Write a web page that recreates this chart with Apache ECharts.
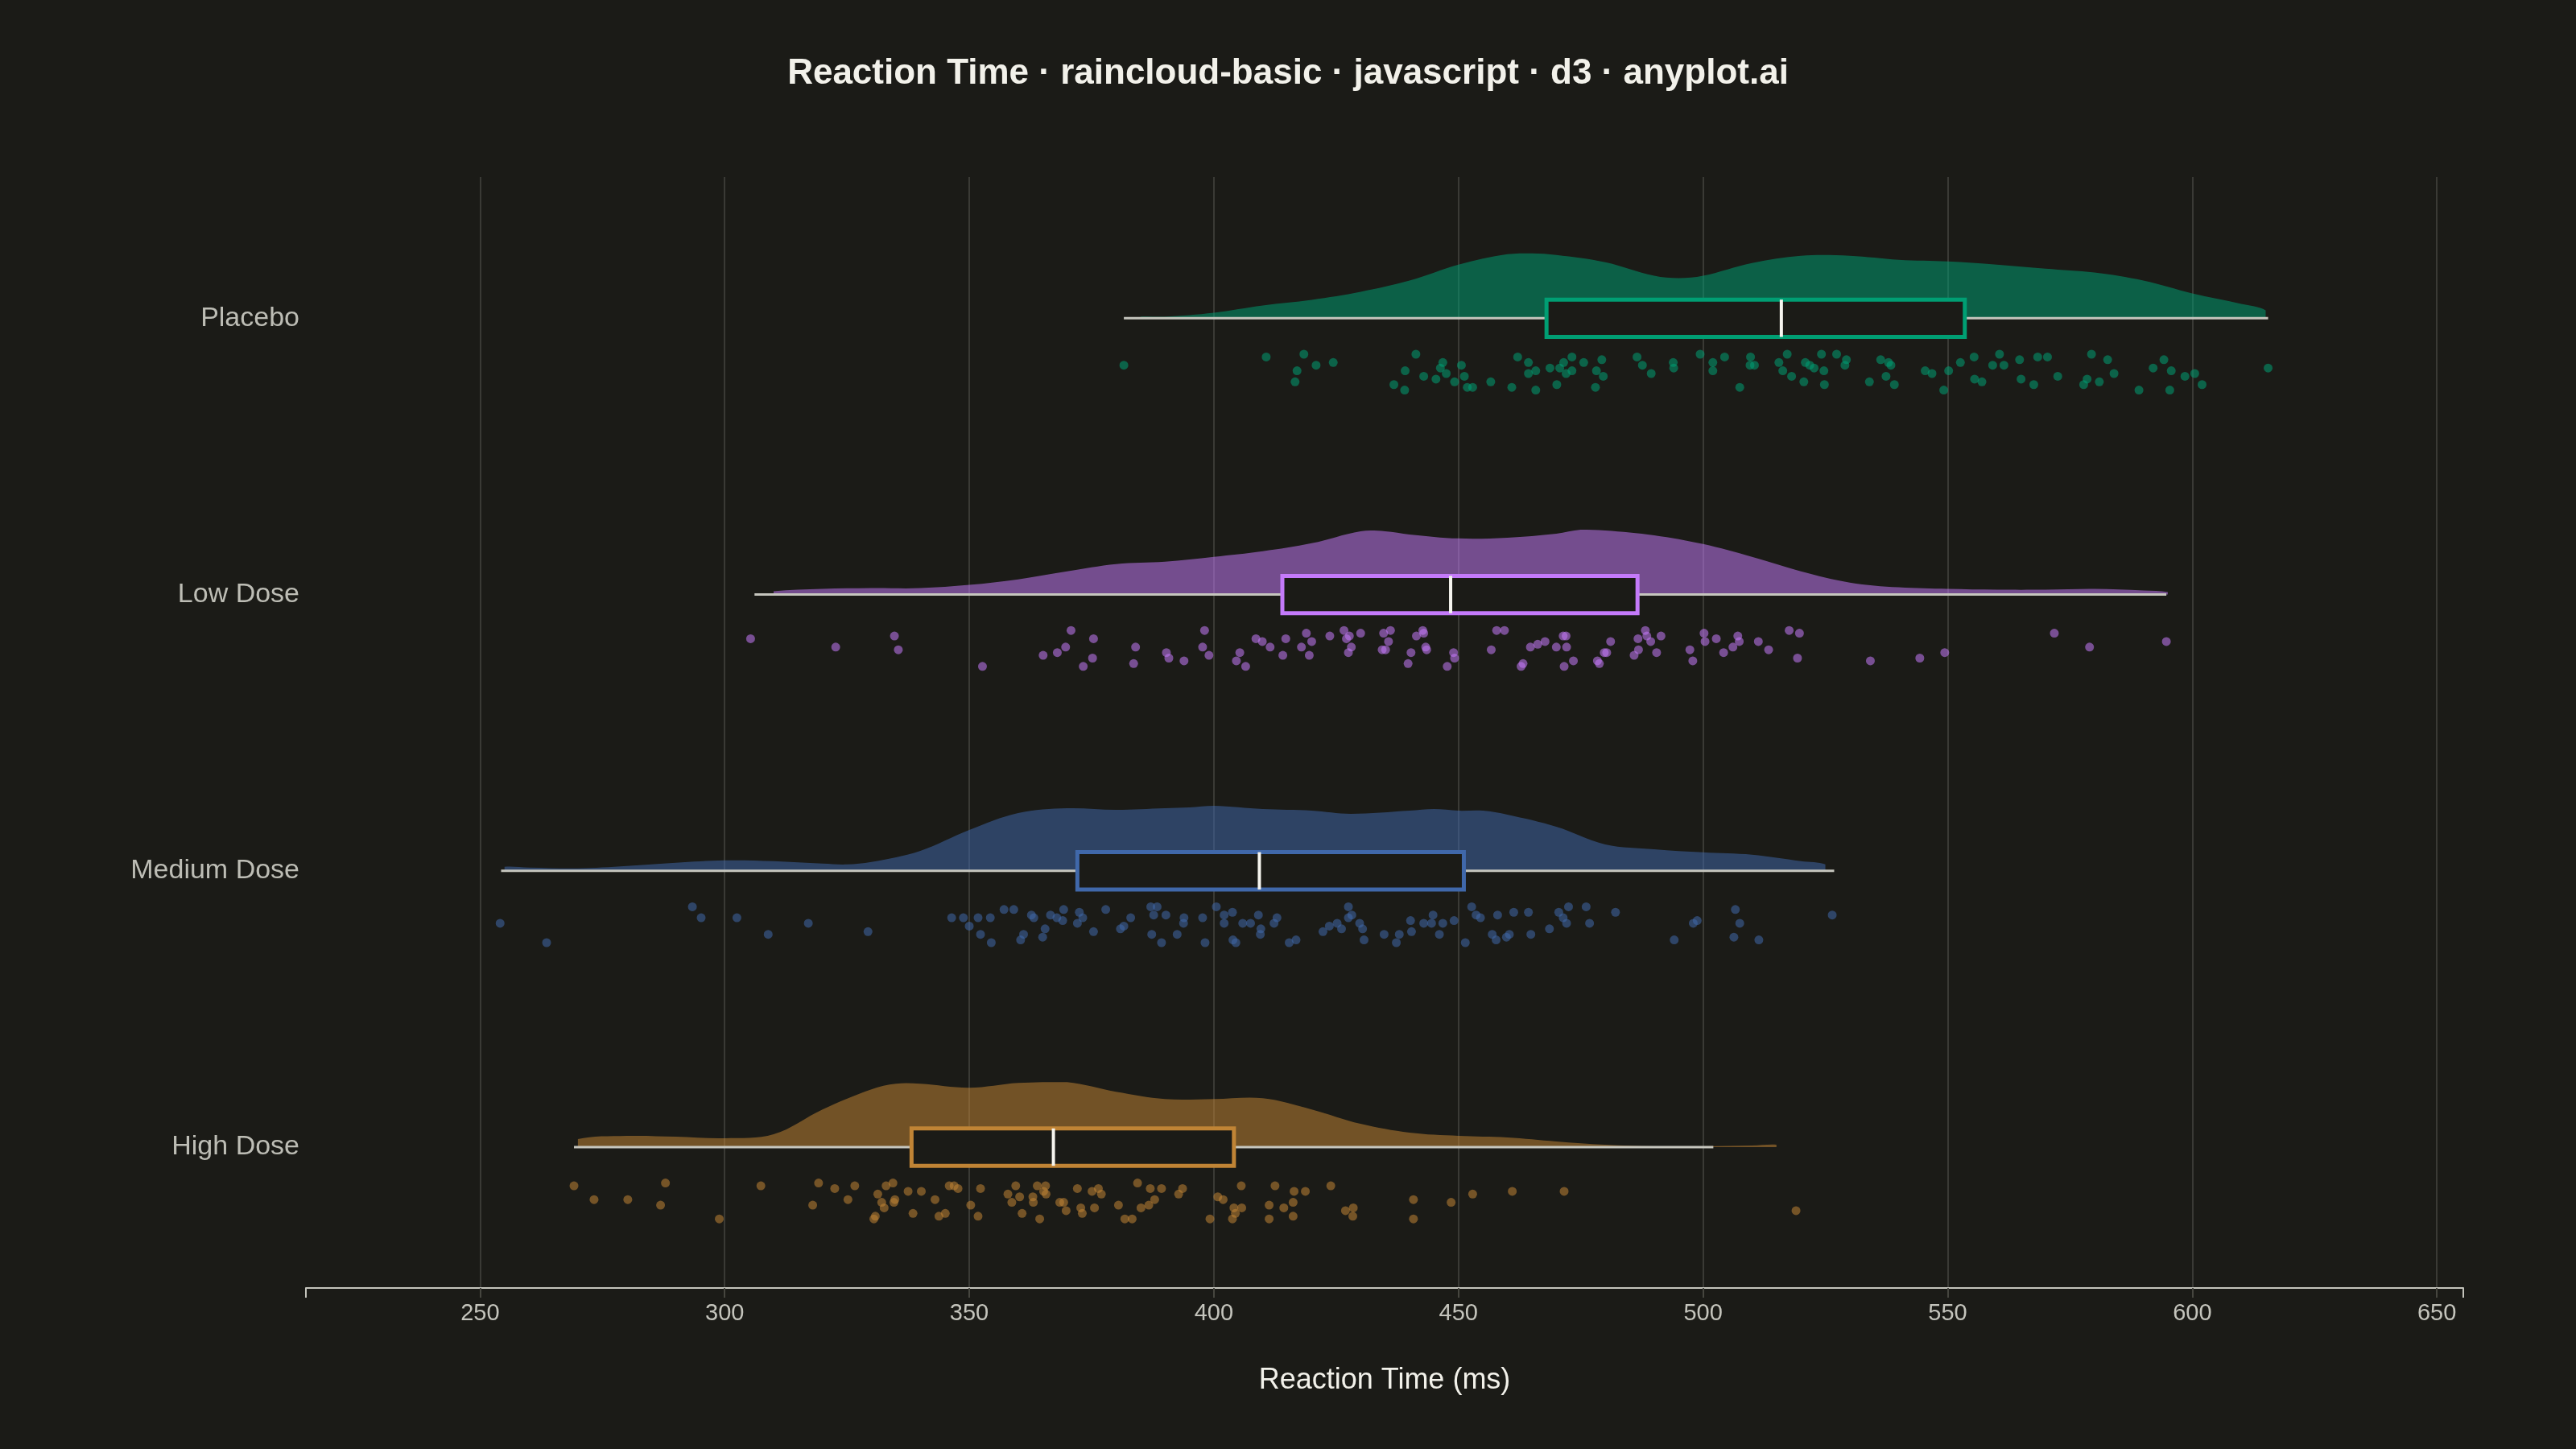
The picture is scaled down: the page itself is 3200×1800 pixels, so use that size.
<!DOCTYPE html>
<html>
<head>
<meta charset="utf-8">
<script src="https://cdn.jsdelivr.net/npm/echarts@6/dist/echarts.min.js"></script>
<style>
  html, body { margin: 0; padding: 0; background: #1b1b17; }
  #main { width: 3200px; height: 1800px; }
</style>
</head>
<body>
<div id="main"></div>
<script>
// groups, top to bottom
var groups = ['Placebo', 'Low Dose', 'Medium Dose', 'High Dose'];
var colors = ['#009E73', '#C47AFA', '#4068AA', '#C08435'];

// axes
var xMin = 214.4;
var xMax = 655.4;
var xTicks = [250, 300, 350, 400, 450, 500, 550, 600, 650];
var yMin = -0.011;
var yMax = 4.01;

// box stats (ms)
var whiskLo = [381.6, 306.1, 254.3, 269.2];
var q1 = [468, 414, 372.1, 338.2];
var median = [516, 448.4, 409.3, 367.2];
var q3 = [553.5, 486.6, 451.1, 404.1];
var whiskHi = [615.5, 594.7, 526.8, 502.1];

// half violin (cloud) outlines: x in ms, relative density
var placeboCloudX = [385, 390, 400, 410, 420, 430, 440, 450, 460, 465, 470, 480, 490, 495, 500, 510, 520, 530, 540, 550, 560, 570, 580, 590, 600, 610, 615];
var placeboCloudD = [2, 2, 7, 16, 23, 33, 47, 67, 80, 81, 79, 70, 53, 50, 53, 69, 78, 78, 73, 71, 67, 62, 57, 47, 31, 18, 10];
var lowCloudX = [310, 320, 330, 340, 350, 360, 370, 380, 390, 400, 410, 420, 430, 435, 440, 450, 460, 470, 475, 480, 490, 500, 510, 520, 530, 540, 550, 560, 570, 580, 590, 595];
var lowCloudD = [4, 7, 8, 8, 12, 19, 29, 38, 41, 47, 54, 64, 79, 79, 75, 70, 71, 76, 81, 80, 74, 63, 47, 29, 15, 9, 7, 6, 6, 7, 5, 3];
var medCloudX = [255, 260, 270, 280, 290, 300, 310, 320, 325, 330, 340, 350, 360, 370, 380, 390, 395, 400, 410, 420, 428, 440, 445, 450, 455, 460, 470, 480, 490, 500, 510, 520, 525];
var medCloudD = [5, 4, 3, 6, 10, 13, 12, 9, 8, 11, 25, 51, 72, 78, 76, 78, 79, 81, 77, 75, 71, 75, 77, 75, 75, 70, 55, 33, 27, 23, 20, 12, 8];
var highCloudX = [270, 280, 290, 300, 310, 320, 330, 335, 340, 350, 360, 370, 380, 390, 400, 410, 420, 430, 440, 450, 460, 470, 480, 490, 500, 510, 515];
var highCloudD = [10, 14, 13, 11, 16, 47, 72, 79, 79, 74, 80, 81, 69, 60, 60, 61, 47, 29, 18, 14, 12, 7, 3, 1, 1, 2, 3];

// raw observations: [reaction time ms, jitter offset below the baseline in band units]
var placeboPts = [[381.6,0.17],[410.7,0.14],[418.4,0.13],[417,0.19],[416.6,0.23],[420.9,0.17],[424.4,0.16],[441.3,0.13],[439.1,0.19],[436.8,0.24],[439,0.26],[446.8,0.16],[446.3,0.18],[442.9,0.21],[445.4,0.22],[447.5,0.2],[450.6,0.17],[451.2,0.21],[449.2,0.23],[452.9,0.25],[451.8,0.25],[456.6,0.23],[460.9,0.25],[462.1,0.14],[464.3,0.16],[465.8,0.19],[464.3,0.2],[465.8,0.26],[468.7,0.18],[470.7,0.18],[471.5,0.16],[473.2,0.14],[472,0.2],[473.2,0.19],[475.6,0.16],[479.3,0.15],[478.2,0.19],[479.6,0.21],[470.1,0.24],[478,0.25],[486.5,0.14],[487.6,0.17],[489.4,0.2],[493.9,0.16],[494,0.18],[499.4,0.13],[502,0.16],[502,0.19],[504.4,0.14],[507.5,0.25],[509.7,0.14],[510.5,0.17],[509.6,0.17],[515.5,0.16],[516.3,0.19],[517.2,0.13],[518.1,0.21],[520.6,0.23],[520.9,0.16],[521.8,0.17],[522.7,0.18],[524.2,0.13],[524.7,0.19],[527.3,0.13],[529.3,0.15],[529,0.17],[524.8,0.24],[534,0.23],[536.3,0.15],[537.9,0.16],[538.4,0.17],[537.4,0.21],[539.1,0.24],[545.4,0.19],[546.8,0.2],[550.2,0.19],[549.2,0.26],[552.6,0.16],[555.4,0.14],[559.2,0.17],[560.6,0.13],[561.5,0.17],[555.5,0.22],[557,0.23],[564.7,0.15],[565,0.22],[567.6,0.24],[568.4,0.14],[570.4,0.14],[572.5,0.21],[579.4,0.13],[578.5,0.22],[577.8,0.24],[581,0.23],[582.7,0.15],[584,0.2],[589.1,0.26],[592,0.18],[594.2,0.15],[595.7,0.19],[595.4,0.26],[598.5,0.21],[600.5,0.2],[602,0.24],[615.5,0.18]];
var lowPts = [[305.3,0.16],[322.7,0.19],[334.7,0.15],[335.5,0.2],[352.7,0.26],[370.8,0.13],[365.1,0.22],[368,0.21],[369.7,0.19],[375.4,0.16],[375.2,0.23],[373.3,0.26],[384,0.19],[383.6,0.25],[390.3,0.21],[390.8,0.23],[393.9,0.24],[398.1,0.13],[397.7,0.19],[399,0.22],[405.3,0.21],[404.6,0.24],[406.5,0.26],[408.6,0.16],[409.9,0.17],[411.5,0.19],[414.7,0.16],[414.1,0.22],[417.9,0.19],[418.9,0.14],[420,0.17],[419.5,0.22],[423.7,0.15],[426.6,0.13],[427.1,0.16],[427.7,0.15],[430,0.14],[428.1,0.19],[427.5,0.21],[434.7,0.14],[436.1,0.13],[435.7,0.17],[435.1,0.2],[434.4,0.2],[441.4,0.15],[442.7,0.13],[442.9,0.14],[443.3,0.19],[443.5,0.2],[440.3,0.21],[439.7,0.25],[449,0.21],[449.2,0.23],[447.7,0.26],[456.7,0.2],[457.8,0.13],[459.4,0.13],[464.7,0.19],[466.2,0.18],[467.7,0.17],[470,0.19],[471.4,0.15],[472,0.15],[472.1,0.19],[463.2,0.25],[462.8,0.26],[473.5,0.24],[471.6,0.26],[478.4,0.24],[478.8,0.25],[479.8,0.21],[480.3,0.21],[481.1,0.17],[485.9,0.22],[486.7,0.16],[486.8,0.2],[488.2,0.13],[488.5,0.15],[489.3,0.17],[491.4,0.15],[490.5,0.21],[497.3,0.2],[497.9,0.24],[500.2,0.14],[500.4,0.17],[502.7,0.16],[504.2,0.21],[506.1,0.19],[507.1,0.15],[507.4,0.17],[511.3,0.17],[513.4,0.2],[517.6,0.13],[519.7,0.14],[519.3,0.23],[534.2,0.24],[544.3,0.23],[549.4,0.21],[571.8,0.14],[579,0.19],[594.7,0.17]];
var medPts = [[254.1,0.19],[263.6,0.26],[293.4,0.13],[295.2,0.17],[302.5,0.17],[308.9,0.23],[317.1,0.19],[329.3,0.22],[346.4,0.17],[348.8,0.17],[351.8,0.17],[354.3,0.17],[350,0.2],[352.3,0.23],[354.5,0.26],[357.1,0.14],[359.1,0.14],[362.7,0.16],[363.2,0.17],[361.1,0.23],[360.5,0.25],[365.5,0.21],[365,0.24],[366.6,0.16],[367.9,0.17],[369.1,0.18],[369.3,0.14],[372.5,0.15],[373.2,0.17],[372.1,0.19],[375.4,0.22],[377.9,0.14],[383,0.17],[381.6,0.2],[380.9,0.21],[387.1,0.13],[388.4,0.13],[387.7,0.16],[390.2,0.16],[387.3,0.23],[389.3,0.26],[393.9,0.17],[393.8,0.19],[392.5,0.23],[397.7,0.17],[400.5,0.13],[402.1,0.16],[403.8,0.15],[402.1,0.19],[405.9,0.19],[407.5,0.19],[409.1,0.16],[409.6,0.21],[409.5,0.23],[403.9,0.25],[404.5,0.26],[398.2,0.26],[412.3,0.19],[412.9,0.17],[415.4,0.26],[416.8,0.25],[422.3,0.22],[423.6,0.2],[425.2,0.19],[426.1,0.21],[427.5,0.13],[428.2,0.16],[427.5,0.17],[429.8,0.19],[430.4,0.21],[430.7,0.25],[434.8,0.23],[437.3,0.26],[437.9,0.23],[440.4,0.22],[440.2,0.18],[442.9,0.19],[444.5,0.19],[444.8,0.16],[446.8,0.19],[449.1,0.18],[446.1,0.23],[451.4,0.26],[452.7,0.13],[453.6,0.16],[454.5,0.17],[458,0.16],[456.9,0.23],[457.7,0.25],[459.8,0.24],[460.4,0.23],[461.3,0.15],[464.3,0.15],[464.8,0.23],[468.6,0.21],[470.5,0.15],[471.4,0.17],[472.1,0.19],[472.5,0.13],[476.1,0.13],[476.8,0.19],[482.1,0.15],[494.1,0.25],[498,0.19],[498.8,0.18],[506.6,0.14],[507.5,0.19],[506.3,0.24],[511.4,0.25],[526.4,0.16]];
var highPts = [[269.2,0.14],[273.3,0.19],[280.2,0.19],[286.9,0.21],[287.9,0.13],[298.9,0.26],[307.4,0.14],[318,0.21],[319.2,0.13],[322.5,0.15],[325.2,0.19],[326.6,0.14],[331.3,0.17],[332.1,0.2],[332.6,0.22],[333,0.14],[334.4,0.13],[334.8,0.19],[334.6,0.2],[330.8,0.25],[330.5,0.26],[337.5,0.16],[340.2,0.16],[338.5,0.24],[343,0.19],[343.8,0.25],[345.1,0.24],[345.9,0.14],[346.9,0.14],[347.7,0.15],[350.3,0.21],[351.8,0.25],[352.3,0.15],[357.9,0.17],[358.7,0.2],[359.5,0.14],[360.3,0.18],[360.8,0.24],[363,0.18],[363.1,0.2],[363.9,0.14],[365.6,0.14],[365.2,0.16],[365.7,0.17],[364.4,0.26],[368.5,0.2],[369.3,0.2],[369.8,0.23],[372.1,0.15],[372.8,0.22],[373.1,0.24],[375.1,0.16],[376.4,0.15],[377,0.17],[375.6,0.22],[380.5,0.21],[381.8,0.26],[383.3,0.26],[384.4,0.13],[385.1,0.22],[386.7,0.21],[387,0.15],[387.9,0.19],[389.3,0.15],[392.8,0.17],[393.6,0.15],[399.2,0.26],[400.8,0.18],[401.9,0.19],[404.1,0.22],[404.4,0.24],[403.8,0.26],[405.7,0.22],[405.6,0.14],[411.3,0.21],[411.3,0.26],[412.5,0.14],[414.3,0.22],[416.4,0.16],[416.2,0.2],[416.2,0.25],[418.7,0.16],[423.9,0.14],[426.9,0.23],[428.5,0.22],[428.4,0.25],[440.8,0.19],[440.8,0.26],[448.5,0.2],[452.9,0.17],[461,0.16],[471.6,0.16],[519,0.23]];

var cloudX = [placeboCloudX, lowCloudX, medCloudX, highCloudX];
var cloudD = [placeboCloudD, lowCloudD, medCloudD, highCloudD];
var allPts = [placeboPts, lowPts, medPts, highPts];

var bg = '#1b1b17';
var cloudHeight = 0.235;   // band units for the tallest density
var boxHalf = 0.0675;

var maxD = 0;
cloudD.forEach(function (a) { a.forEach(function (d) { if (d > maxD) maxD = d; }); });

var chart = echarts.init(document.getElementById('main'));

var series = [];

// clouds
series.push({
    type: 'custom',
    z: 1,
    silent: true,
    data: groups.map(function (g, i) { return [cloudX[i][0], cloudX[i][cloudX[i].length - 1], i]; }),
    encode: { x: [0, 1], y: 2 },
    renderItem: function (params, api) {
        var i = api.value(2);
        var xs = cloudX[i], ds = cloudD[i];
        var base = i + 0.5;
        var pts = [];
        for (var k = 0; k < xs.length; k++) {
            pts.push(api.coord([xs[k], base - ds[k] / maxD * cloudHeight]));
        }
        var endPt = api.coord([xs[xs.length - 1], base]);
        var startPt = api.coord([xs[0], base]);
        pts.push(endPt);
        pts.push(startPt);
        return {
            type: 'polygon',
            shape: { points: pts, smooth: 0.35, smoothConstraint: [startPt, startPt] },
            style: { fill: colors[i], opacity: 0.53 }
        };
    }
});

// whiskers, boxes and medians
series.push({
    type: 'custom',
    z: 3,
    silent: true,
    data: groups.map(function (g, i) { return [whiskLo[i], q1[i], median[i], q3[i], whiskHi[i], i]; }),
    encode: { x: [0, 1, 2, 3, 4], y: 5 },
    renderItem: function (params, api) {
        var i = api.value(5);
        var base = i + 0.5;
        var lo = api.coord([api.value(0), base]);
        var hi = api.coord([api.value(4), base]);
        var b1 = api.coord([api.value(1), base - boxHalf]);
        var b2 = api.coord([api.value(3), base + boxHalf]);
        var m1 = api.coord([api.value(2), base - boxHalf]);
        var m2 = api.coord([api.value(2), base + boxHalf]);
        return {
            type: 'group',
            children: [
                { type: 'line', shape: { x1: lo[0], y1: lo[1], x2: hi[0], y2: hi[1] },
                  style: { stroke: '#c6c6be', lineWidth: 3 } },
                { type: 'rect', shape: { x: b1[0], y: b1[1], width: b2[0] - b1[0], height: b2[1] - b1[1] },
                  style: { fill: bg, stroke: colors[i], lineWidth: 5 } },
                { type: 'line', shape: { x1: m1[0], y1: m1[1], x2: m2[0], y2: m2[1] },
                  style: { stroke: '#f6f5ef', lineWidth: 4 } }
            ]
        };
    }
});

// rain
allPts.forEach(function (pts, i) {
    series.push({
        name: groups[i],
        type: 'scatter',
        z: 4,
        silent: true,
        symbolSize: 11,
        itemStyle: { color: colors[i], opacity: 0.55 },
        data: pts.map(function (p) { return [p[0], i + 0.5 + p[1]]; })
    });
});

// outer ticks at the ends of the x domain
series.push({
    type: 'custom',
    z: 2,
    silent: true,
    data: [[xMin, yMax], [xMax, yMax]],
    renderItem: function (params, api) {
        var p = api.coord([api.value(0), api.value(1)]);
        return { type: 'line', shape: { x1: p[0], y1: p[1], x2: p[0], y2: p[1] + 12 },
                 style: { stroke: '#c4c4bc', lineWidth: 2 } };
    }
});

var option = {
    backgroundColor: bg,
    animation: false,
    textStyle: { fontFamily: 'Liberation Sans, Arial, sans-serif' },
    title: {
        text: 'Reaction Time · raincloud-basic · javascript · d3 · anyplot.ai',
        left: 'center',
        top: 65,
        textStyle: { color: '#f2f1ea', fontSize: 44, fontWeight: 'bold', fontFamily: 'Liberation Sans, Arial, sans-serif' }
    },
    grid: { left: 380, right: 140, top: 220, bottom: 200, containLabel: false },
    xAxis: {
        type: 'value',
        min: xMin,
        max: xMax,
        name: 'Reaction Time (ms)',
        nameLocation: 'middle',
        nameGap: 97,
        nameTextStyle: { color: '#f2f1ea', fontSize: 36 },
        axisLine: { show: true, onZero: false, lineStyle: { color: '#c4c4bc', width: 2 } },
        axisTick: { show: true, length: 12, customValues: xTicks, lineStyle: { color: '#46463f', width: 2 } },
        axisLabel: { customValues: xTicks, color: '#c4c4bc', fontSize: 29, margin: 17 },
        splitLine: { show: true, lineStyle: { color: '#3a3a35', width: 2 } }
    },
    yAxis: {
        type: 'value',
        min: yMin,
        max: yMax,
        inverse: true,
        axisLine: { show: false },
        axisTick: { show: false },
        splitLine: { show: false },
        axisLabel: {
            customValues: [0.5, 1.5, 2.5, 3.5],
            color: '#bdbdb5',
            fontSize: 34,
            margin: 8,
            formatter: function (v) { return groups[Math.floor(v)]; }
        }
    },
    series: series
};

chart.setOption(option);
</script>
</body>
</html>
